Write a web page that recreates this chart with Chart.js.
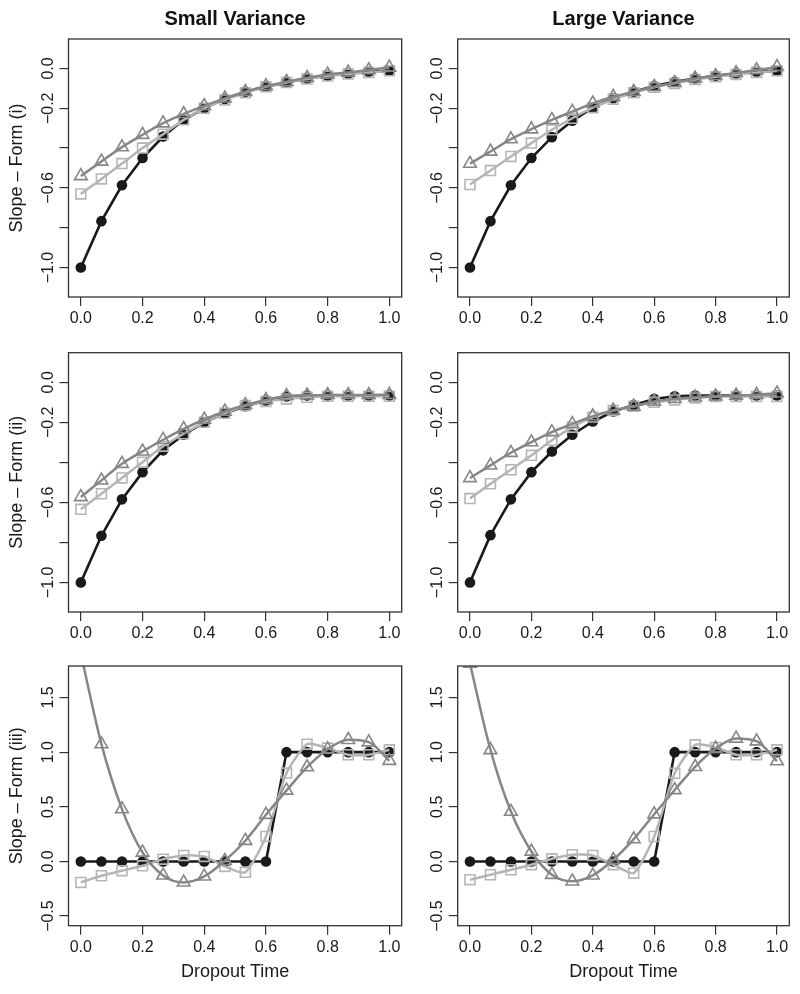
<!DOCTYPE html>
<html>
<head>
<meta charset="utf-8">
<script src="https://cdn.jsdelivr.net/npm/chart.js@4.4.0/dist/chart.umd.min.js"></script>
<style>
  html, body { margin: 0; padding: 0; background: #fff; }
  #wrap { position: relative; width: 800px; height: 994px; }
  #wrap canvas { position: absolute; }
</style>
</head>
<body>
<div id="wrap">
  <canvas id="p00" width="420" height="340" style="left:0px;top:0px"></canvas>
  <canvas id="p01" width="380" height="340" style="left:420px;top:0px"></canvas>
  <canvas id="p10" width="420" height="314" style="left:0px;top:340px"></canvas>
  <canvas id="p11" width="380" height="314" style="left:420px;top:340px"></canvas>
  <canvas id="p20" width="420" height="340" style="left:0px;top:654px"></canvas>
  <canvas id="p21" width="380" height="340" style="left:420px;top:654px"></canvas>
</div>
<script>
// dropout times (x) shared by every panel
const dropoutTime = [0, 0.0667, 0.1333, 0.2, 0.2667, 0.3333, 0.4, 0.4667, 0.5333, 0.6, 0.6667, 0.7333, 0.8, 0.8667, 0.9333, 1.0];

const xTicks = [0, 0.2, 0.4, 0.6, 0.8, 1.0];
const xTickLabels = ['0.0', '0.2', '0.4', '0.6', '0.8', '1.0'];
const slopeTicks = [-1.0, -0.8, -0.6, -0.4, -0.2, 0.0];
const slopeTickLabels = ['\u22121.0', '', '\u22120.6', '', '\u22120.2', '0.0'];
const form3Ticks = [-0.5, 0.0, 0.5, 1.0, 1.5];
const form3TickLabels = ['\u22120.5', '0.0', '0.5', '1.0', '1.5'];

const colTitles = ['Small Variance', 'Large Variance'];
const rowTitles = ['Slope \u2013 Form (i)', 'Slope \u2013 Form (ii)', 'Slope \u2013 Form (iii)'];

// Form (i)
const smallI_black = [-1.0, -0.767, -0.587, -0.45, -0.342, -0.258, -0.2, -0.153, -0.117, -0.092, -0.07, -0.05, -0.037, -0.025, -0.017, -0.012];
const smallI_square = [-0.63, -0.555, -0.478, -0.4, -0.33, -0.258, -0.2, -0.158, -0.122, -0.092, -0.07, -0.053, -0.038, -0.028, -0.02, -0.012];
const smallI_triangle = [-0.54, -0.467, -0.395, -0.333, -0.275, -0.228, -0.188, -0.15, -0.117, -0.088, -0.067, -0.047, -0.03, -0.02, -0.008, 0.005];
const largeI_black = [-1.0, -0.767, -0.587, -0.45, -0.345, -0.263, -0.197, -0.15, -0.117, -0.088, -0.067, -0.05, -0.037, -0.025, -0.017, -0.012];
const largeI_square = [-0.583, -0.513, -0.442, -0.375, -0.308, -0.25, -0.197, -0.155, -0.122, -0.095, -0.075, -0.055, -0.042, -0.03, -0.02, -0.012];
const largeI_triangle = [-0.478, -0.417, -0.355, -0.305, -0.258, -0.217, -0.175, -0.142, -0.117, -0.092, -0.072, -0.05, -0.037, -0.022, -0.008, 0.008];

// Form (ii)
const smallII_black = [-1.0, -0.767, -0.585, -0.449, -0.34, -0.262, -0.2, -0.155, -0.12, -0.091, -0.071, -0.066, -0.066, -0.066, -0.066, -0.066];
const smallII_square = [-0.635, -0.557, -0.478, -0.399, -0.319, -0.257, -0.2, -0.155, -0.116, -0.096, -0.083, -0.075, -0.07, -0.07, -0.07, -0.07];
const smallII_triangle = [-0.573, -0.49, -0.407, -0.345, -0.287, -0.233, -0.186, -0.146, -0.113, -0.088, -0.068, -0.065, -0.063, -0.063, -0.063, -0.062];
const largeII_black = [-1.0, -0.764, -0.585, -0.449, -0.346, -0.262, -0.196, -0.146, -0.113, -0.083, -0.07, -0.066, -0.066, -0.066, -0.066, -0.066];
const largeII_square = [-0.581, -0.507, -0.437, -0.365, -0.29, -0.224, -0.174, -0.141, -0.12, -0.1, -0.088, -0.078, -0.071, -0.071, -0.071, -0.071];
const largeII_triangle = [-0.478, -0.415, -0.352, -0.299, -0.249, -0.208, -0.169, -0.141, -0.121, -0.096, -0.083, -0.075, -0.07, -0.066, -0.062, -0.055];

// Form (iii)
const smallIII_black = [0, 0, 0, 0, 0, 0, 0, 0, 0, 0, 1, 1, 1, 1, 1, 1];
const smallIII_square = [-0.192, -0.131, -0.085, -0.04, 0.021, 0.055, 0.046, -0.046, -0.1, 0.229, 0.808, 1.073, 1.037, 0.976, 0.976, 1.021];
const smallIII_triangle = [1.9, 1.073, 0.479, 0.082, -0.128, -0.192, -0.137, 0.006, 0.189, 0.427, 0.649, 0.863, 1.027, 1.113, 1.091, 0.921];
const largeIII_black = [0, 0, 0, 0, 0, 0, 0, 0, 0, 0, 1, 1, 1, 1, 1, 1];
const largeIII_square = [-0.167, -0.122, -0.076, -0.03, 0.024, 0.061, 0.055, -0.03, -0.107, 0.228, 0.806, 1.067, 1.043, 0.976, 0.976, 1.021];
const largeIII_triangle = [1.81, 1.02, 0.456, 0.091, -0.122, -0.182, -0.128, 0.015, 0.204, 0.432, 0.654, 0.866, 1.033, 1.125, 1.1, 0.918];

Chart.defaults.font.family = '"Liberation Sans", Arial, Helvetica, sans-serif';
Chart.defaults.color = '#1a1a1a';

// layout of the 3x2 grid (plot box edges in page pixels)
const colYAxisWidth = [68.5, 37.7];
const colPadRight = [18.3, 10.7];
const rowPadTop = [0, 12.7, 12];
const rowXAxisHeight = [43, 42, 68.3];

const frameBox = {
  id: 'frameBox',
  afterDatasetsDraw(chart) {
    const a = chart.chartArea;
    const ctx = chart.ctx;
    ctx.save();
    ctx.strokeStyle = '#333';
    ctx.lineWidth = 1.3;
    ctx.strokeRect(a.left, a.top, a.right - a.left, a.bottom - a.top);
    ctx.restore();
  }
};

function toPoints(arr) {
  return arr.map(function(v, i) { return { x: dropoutTime[i], y: v }; });
}

function makePanel(row, col, black, square, triangle) {
  const isForm3 = row === 2;
  const yTicks = isForm3 ? form3Ticks : slopeTicks;
  const yLabels = isForm3 ? form3TickLabels : slopeTickLabels;

  new Chart(document.getElementById('p' + row + col), {
    type: 'line',
    data: {
      datasets: [
        {
          data: toPoints(triangle),
          borderColor: '#868686',
          borderWidth: 2.5,
          cubicInterpolationMode: 'monotone',
          pointStyle: 'triangle',
          pointRadius: 7.3,
          pointBorderWidth: 1.6,
          pointBorderColor: '#868686',
          pointBackgroundColor: 'rgba(0,0,0,0)'
        },
        {
          data: toPoints(square),
          borderColor: '#b5b5b5',
          borderWidth: 2.5,
          tension: 0.2,
          pointStyle: 'rect',
          pointRadius: 7,
          pointBorderWidth: 1.6,
          pointBorderColor: '#b5b5b5',
          pointBackgroundColor: 'rgba(0,0,0,0)'
        },
        {
          data: toPoints(black),
          borderColor: '#1a1a1a',
          borderWidth: 2.6,
          tension: 0,
          pointStyle: 'circle',
          pointRadius: 5.3,
          pointBorderWidth: 0,
          pointBackgroundColor: '#1a1a1a'
        }
      ]
    },
    options: {
      responsive: false,
      animation: false,
      devicePixelRatio: 1,
      events: [],
      layout: { padding: { left: 0, right: colPadRight[col], top: rowPadTop[row], bottom: 0 } },
      plugins: {
        legend: { display: false },
        tooltip: { enabled: false },
        title: {
          display: row === 0,
          text: colTitles[col],
          fullSize: false,
          font: { size: 20, weight: 'bold' },
          color: '#111',
          padding: { top: 7, bottom: 8 }
        }
      },
      scales: {
        x: {
          type: 'linear',
          min: -0.04,
          max: 1.04,
          afterBuildTicks: function(s) { s.ticks = xTicks.map(function(v) { return { value: v }; }); },
          afterFit: function(s) { s.height = rowXAxisHeight[row]; },
          border: { display: false },
          grid: { drawOnChartArea: false, drawTicks: true, tickLength: 9, color: '#333', lineWidth: 1.2 },
          ticks: {
            autoSkip: false,
            maxRotation: 0,
            padding: 3,
            font: { size: 16 },
            color: '#1a1a1a',
            callback: function(v, i) { return xTickLabels[i]; }
          },
          title: {
            display: isForm3,
            text: 'Dropout Time',
            font: { size: 18 },
            color: '#1a1a1a',
            padding: { top: 0, bottom: 11 }
          }
        },
        y: {
          type: 'linear',
          min: isForm3 ? -0.588 : -1.148,
          max: isForm3 ? 1.788 : 0.148,
          afterBuildTicks: function(s) { s.ticks = yTicks.map(function(v) { return { value: v }; }); },
          afterFit: function(s) { s.width = colYAxisWidth[col]; },
          border: { display: false },
          grid: { drawOnChartArea: false, drawTicks: true, tickLength: 9, color: '#333', lineWidth: 1.2 },
          ticks: {
            autoSkip: false,
            minRotation: 90,
            maxRotation: 90,
            crossAlign: 'center',
            padding: -5,
            font: { size: 16 },
            color: '#1a1a1a',
            callback: function(v, i) { return yLabels[i]; }
          },
          title: {
            display: col === 0,
            text: rowTitles[row],
            font: { size: 18 },
            color: '#1a1a1a',
            padding: { top: 6, bottom: 0 }
          }
        }
      }
    },
    plugins: [frameBox]
  });
}

makePanel(0, 0, smallI_black, smallI_square, smallI_triangle);
makePanel(0, 1, largeI_black, largeI_square, largeI_triangle);
makePanel(1, 0, smallII_black, smallII_square, smallII_triangle);
makePanel(1, 1, largeII_black, largeII_square, largeII_triangle);
makePanel(2, 0, smallIII_black, smallIII_square, smallIII_triangle);
makePanel(2, 1, largeIII_black, largeIII_square, largeIII_triangle);
</script>
</body>
</html>
